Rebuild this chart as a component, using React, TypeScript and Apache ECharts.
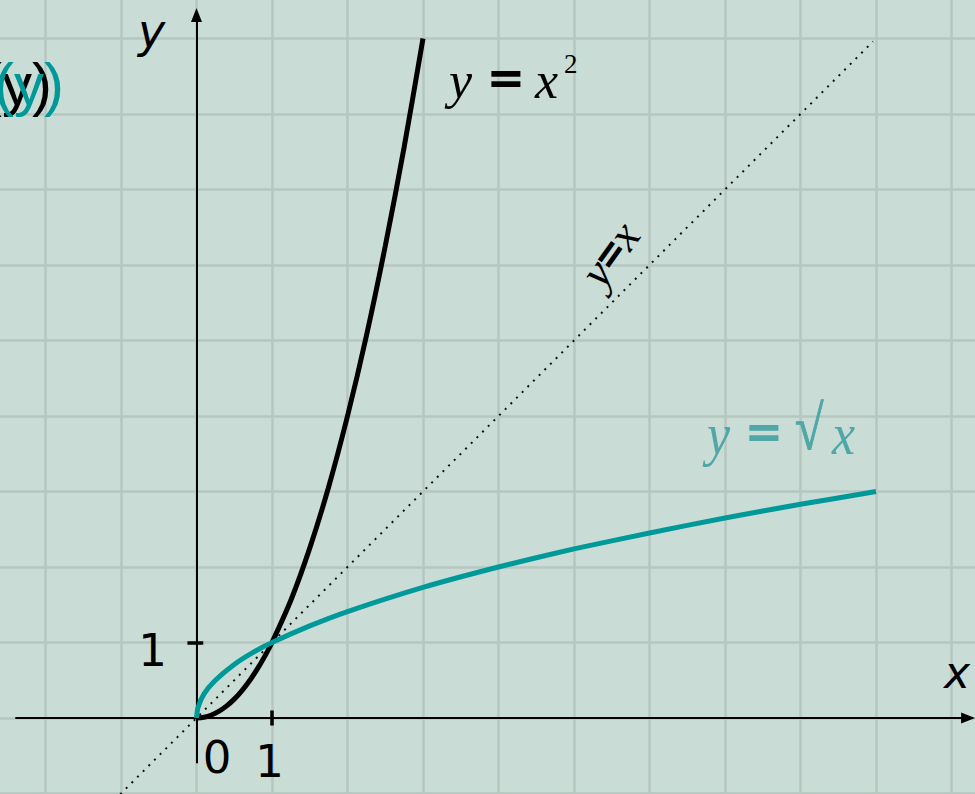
import React, { useEffect, useRef } from "react";
import * as echarts from "echarts";

// ---- data ----
const GRID_X = [-2, -1, 0, 1, 2, 3, 4, 5, 6, 7, 8, 9, 10];
const GRID_Y = [-1, 0, 1, 2, 3, 4, 5, 6, 7, 8, 9];
const PARABOLA_X = [0, 0.1, 0.2, 0.3, 0.4, 0.5, 0.6, 0.7, 0.8, 0.9, 1, 1.25, 1.5, 1.75, 2, 2.25, 2.5, 2.75, 3];
const PARABOLA_Y = [0, 0.01, 0.04, 0.09, 0.16, 0.25, 0.36, 0.49, 0.64, 0.81, 1, 1.56, 2.25, 3.06, 4, 5.06, 6.25, 7.56, 9];
const SQRT_X = [0, 0.02, 0.1, 0.25, 0.5, 0.75, 1, 1.5, 2, 3, 4, 5, 6, 7, 8, 9];
const SQRT_Y = [0, 0.14, 0.32, 0.5, 0.71, 0.87, 1, 1.22, 1.41, 1.73, 2, 2.24, 2.45, 2.65, 2.83, 3];
const IDENTITY_X = [-1.01, 8.96];
const IDENTITY_Y = [-1.01, 8.96];
const X_AXIS_RANGE = [-2.4, 10.22];
const Y_AXIS_RANGE = [-0.6, 9.31];
const TICK_X = [1];
const TICK_Y = [1];

// view extents (grid fills the whole canvas)
const X_MIN = -2.6026;
const X_MAX = 10.3113;
const Y_MIN = -1.0066;
const Y_MAX = 9.5099;

const SERIF = "'Liberation Serif', 'Times New Roman', Times, serif";
const SANS = "'DejaVu Sans', sans-serif";
const ARIAL = "'Liberation Sans', Arial, sans-serif";
const TEAL = "#009999";
const TEAL_LABEL = "#4fa7a7";

function txt(
  x: number,
  y: number,
  text: string,
  family: string,
  size: number,
  fill: string,
  opts: any = {}
) {
  const style: any = {
    text,
    fontFamily: family,
    fontSize: size,
    fontStyle: opts.italic ? "italic" : "normal",
    fontWeight: opts.bold ? "bold" : "normal",
    fill,
    align: opts.align ?? "left",
    verticalAlign: "middle",
  };
  if (opts.stroke) {
    style.stroke = fill;
    style.lineWidth = opts.stroke;
  }
  return {
    type: "text",
    x,
    y,
    z: 100,
    scaleX: opts.scaleX ?? 1,
    scaleY: opts.scaleY ?? 1,
    rotation: opts.rotation ?? 0,
    style,
  };
}

export default function App() {
  const ref = useRef<HTMLDivElement>(null);
  useEffect(() => {
    if (!ref.current) return;
    const chart = echarts.init(ref.current, undefined, { renderer: "svg" });
    const pair = (xs: number[], ys: number[]) => xs.map((x, i) => [x, ys[i]]);
    const option: any = {
      animation: false,
      backgroundColor: "#cadcd6",
      grid: { left: 0, right: 0, top: 0, bottom: 0 },
      xAxis: { type: "value", min: X_MIN, max: X_MAX, show: false },
      yAxis: { type: "value", min: Y_MIN, max: Y_MAX, show: false },
      series: [
        {
          type: "line",
          data: [[0, 0]],
          showSymbol: false,
          lineStyle: { width: 0 },
          silent: true,
          z: 1,
          markLine: {
            z: 1,
            silent: true,
            symbol: ["none", "none"],
            label: { show: false },
            lineStyle: { color: "#b6c7c0", width: 2.5, type: "solid" },
            data: [
              ...GRID_X.map((v) => ({ xAxis: v })),
              ...GRID_Y.map((v) => ({ yAxis: v })),
            ],
          },
        },
        {
          type: "line",
          data: pair(IDENTITY_X, IDENTITY_Y),
          showSymbol: false,
          silent: true,
          z: 2,
          lineStyle: { color: "#111", width: 2, type: [2, 6] },
        },
        {
          type: "line",
          data: [[0, 0]],
          showSymbol: false,
          lineStyle: { width: 0 },
          silent: true,
          z: 3,
          markLine: {
            z: 3,
            silent: true,
            symbol: ["none", "triangle"],
            symbolSize: [11, 14],
            label: { show: false },
            lineStyle: { color: "#000", width: 2, type: "solid" },
            data: [
              [{ coord: [X_AXIS_RANGE[0], 0] }, { coord: [X_AXIS_RANGE[1], 0] }],
              [{ coord: [0, Y_AXIS_RANGE[0]] }, { coord: [0, Y_AXIS_RANGE[1]] }],
            ],
          },
        },
        {
          type: "line",
          data: [[0, 0]],
          showSymbol: false,
          lineStyle: { width: 0 },
          silent: true,
          z: 3,
          markLine: {
            z: 3,
            silent: true,
            symbol: ["none", "none"],
            label: { show: false },
            lineStyle: { color: "#000", width: 3.5, type: "solid" },
            data: [
              ...TICK_X.map((v) => [{ coord: [v, -0.1] }, { coord: [v, 0.1] }]),
              ...TICK_Y.map((v) => [{ coord: [-0.12, v] }, { coord: [0.09, v] }]),
            ],
          },
        },
        {
          type: "line",
          data: pair(PARABOLA_X, PARABOLA_Y),
          showSymbol: false,
          smooth: 0.3,
          silent: true,
          z: 4,
          lineStyle: { color: "#000", width: 5 },
        },
        {
          type: "line",
          data: pair(SQRT_X, SQRT_Y),
          showSymbol: false,
          smooth: 0.2,
          silent: true,
          z: 5,
          lineStyle: { color: TEAL, width: 5 },
        },
      ],
      graphic: [
        // axis names
        txt(138, 31, "y", SANS, 46, "#000", { italic: true }),
        txt(944, 672, "x", SANS, 44, "#000", { italic: true }),
        // tick labels
        txt(217, 757, "0", SANS, 45, "#000", { align: "center" }),
        txt(269.5, 761, "1", SANS, 45, "#000", { align: "center" }),
        txt(152.5, 650, "1", SANS, 45, "#000", { align: "center" }),
        // overlapping (y)
        txt(-18, 84, "(y)", ARIAL, 60, "#000"),
        txt(-6, 84, "(y)", ARIAL, 60, TEAL),
        // y = x^2
        txt(449, 80, "y", SERIF, 52, "#000", { italic: true }),
        txt(506, 78, "=", SERIF, 52, "#000", { bold: true, align: "center", stroke: 2.2, scaleX: 1.1 }),
        txt(535, 80, "x", SERIF, 52, "#000", { italic: true }),
        txt(564, 64, "2", SERIF, 27, "#000"),
        // y = x (rotated)
        {
          type: "text",
          x: 610,
          y: 254,
          z: 100,
          rotation: 0.95,
          style: {
            text: "{i|y}{e|=}{i|x}",
            align: "center",
            verticalAlign: "middle",
            rich: {
              i: { fontFamily: SERIF, fontStyle: "italic", fontSize: 46, fill: "#000" },
              e: { fontFamily: SERIF, fontWeight: "bold", fontSize: 46, fill: "#000", stroke: "#000", lineWidth: 1.5 },
            },
          },
        },
        // y = sqrt(x)
        txt(707, 434, "y", SERIF, 52, TEAL_LABEL, { italic: true, scaleY: 1.12 }),
        txt(764, 432, "=", SERIF, 52, TEAL_LABEL, { bold: true, align: "center", stroke: 2.2, scaleX: 1.1 }),
        txt(795, 428, "√", SERIF, 52, TEAL_LABEL, { scaleY: 1.2, stroke: 0.8 }),
        txt(832, 434, "x", SERIF, 52, TEAL_LABEL, { italic: true, scaleY: 1.12 }),
      ],
    };
    chart.setOption(option);
    return () => chart.dispose();
  }, []);
  return (
    <div
      ref={ref}
      style={{ position: "fixed", left: 0, top: 0, width: 975, height: 794 }}
    />
  );
}
